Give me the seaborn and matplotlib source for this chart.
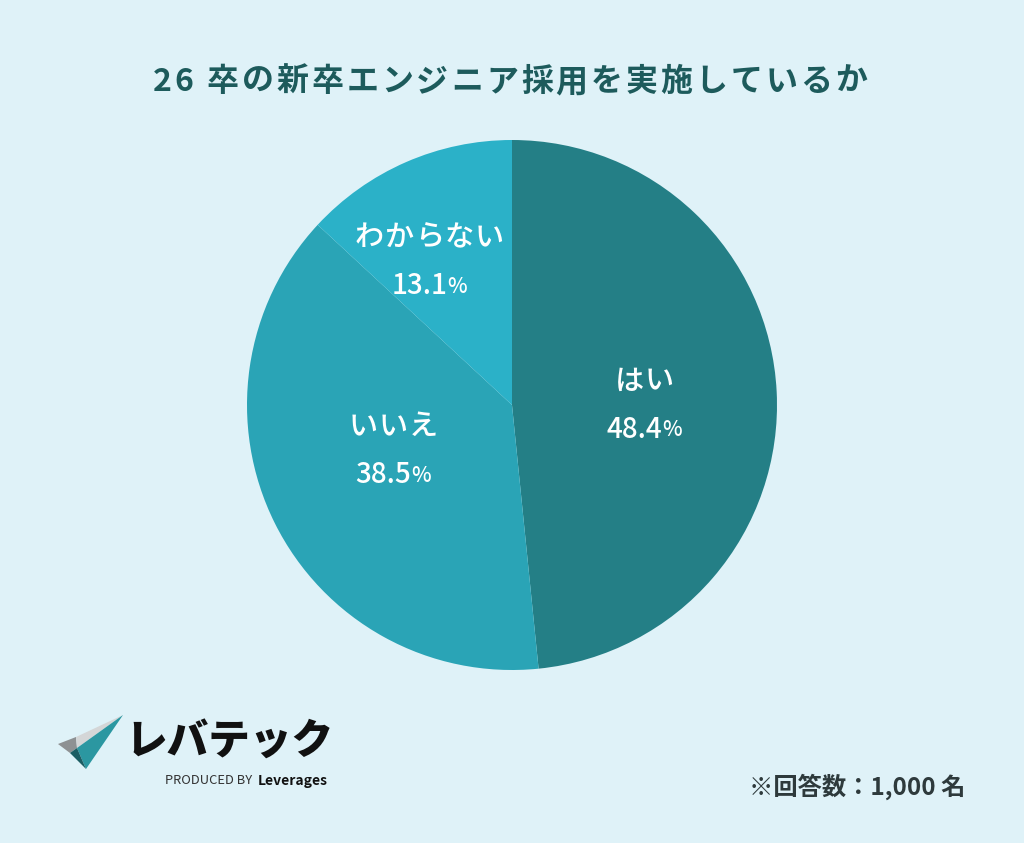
import numpy as np
import matplotlib
matplotlib.use("Agg")
import matplotlib.pyplot as plt
from matplotlib.patches import Polygon
import seaborn as sns

# data
labels = ["はい", "いいえ", "わからない"]
shares = [48.4, 38.5, 13.1]
colors = ["#247f86", "#2aa4b6", "#2bb1c8"]
title = "26 卒の新卒エンジニア採用を実施しているか"
note = "※回答数：1,000 名"

# label placement (radius, angle in degrees) inside each wedge
label_pos = [(0.50, 0), (0.48, 201), (0.625, 120)]

bg = "#dff2f8"
sns.set_theme(style="white")
plt.rcParams["font.family"] = ["Noto Sans CJK JP", "DejaVu Sans"]

W, H = 1024, 843
fig = plt.figure(figsize=(W / 100, H / 100), dpi=100)
fig.patch.set_facecolor(bg)
renderer = fig.canvas.get_renderer()


def text_width(s, **kw):
    t = fig.text(0, 0, s, **kw)
    w = t.get_window_extent(renderer).width
    t.remove()
    return w


def spaced_text(xc, y, s, gap, **kw):
    # draw a string char by char with extra tracking, centred on xc (pixels)
    widths = [text_width(c, **kw) for c in s]
    total = sum(widths) + gap * (len(s) - 1)
    x = xc - total / 2
    for c, w in zip(s, widths):
        fig.text(x / W, 1 - y / H, c, ha="left", va="center", **kw)
        x += w + gap


def value_text(xc, y, num, **kw):
    # number followed by a smaller percent sign, centred on xc (pixels)
    w1 = text_width(num, fontsize=20, **kw)
    w2 = text_width("%", fontsize=15, **kw)
    x = xc - (w1 + w2) / 2
    fig.text(x / W, 1 - y / H, num, ha="left", va="center", fontsize=20, **kw)
    fig.text((x + w1) / W, 1 - (y + 1.5) / H, "%", ha="left", va="center",
             fontsize=15, **kw)


# pie axes: centre at (512, 405) px, radius 265 px
cx, cy, r = 512, 405, 265
ax = fig.add_axes([(cx - r) / W, (H - cy - r) / H, 2 * r / W, 2 * r / H])
ax.set_facecolor(bg)
wedges, _ = ax.pie(shares, colors=colors, startangle=90, counterclock=False,
                   radius=1, wedgeprops=dict(linewidth=0))
ax.set_xlim(-1, 1)
ax.set_ylim(-1, 1)
ax.set_aspect("equal")
ax.axis("off")

for lab, val, (lr, la) in zip(labels, shares, label_pos):
    px = cx + lr * r * np.cos(np.deg2rad(la))
    py = cy - lr * r * np.sin(np.deg2rad(la))
    spaced_text(px, py - 24, lab, 1, color="white", fontsize=21,
                fontweight="medium")
    value_text(px, py + 24, f"{val}", color="white", fontweight="medium")

spaced_text(510, 82, title, 2.9, color="#1d5b5c", fontsize=23,
            fontweight="bold")
fig.text(965 / W, 1 - 787 / H, note, ha="right", va="center",
         color="#2e3a3c", fontsize=17.5, fontweight="bold")

# logo
lax = fig.add_axes([0, 0, 1, 1])
lax.set_xlim(0, W)
lax.set_ylim(H, 0)
lax.axis("off")
lax.patch.set_alpha(0)
lax.add_patch(Polygon([(58, 744), (76, 737), (77, 748), (70, 753)],
                      closed=True, color="#8e9193", lw=0))
lax.add_patch(Polygon([(76, 737), (123, 715), (77, 748)], closed=True,
                      color="#d4d6d7", lw=0))
lax.add_patch(Polygon([(77, 748), (123, 715), (86, 769)], closed=True,
                      color="#2b97a1", lw=0))
lax.add_patch(Polygon([(70, 753), (77, 748), (86, 769)], closed=True,
                      color="#1b5d63", lw=0))
lax.text(125, 743, "レバテック", ha="left", va="center", color="#111111",
         fontsize=30, fontweight="black", style="italic")
lax.text(165, 781, "PRODUCED BY", ha="left", va="center", color="#333333",
         fontsize=9.3)
lax.text(258, 781, "Leverages", ha="left", va="center", color="#111111",
         fontsize=10, fontweight="bold")

fig.savefig("out.png", dpi=100, facecolor=bg)
